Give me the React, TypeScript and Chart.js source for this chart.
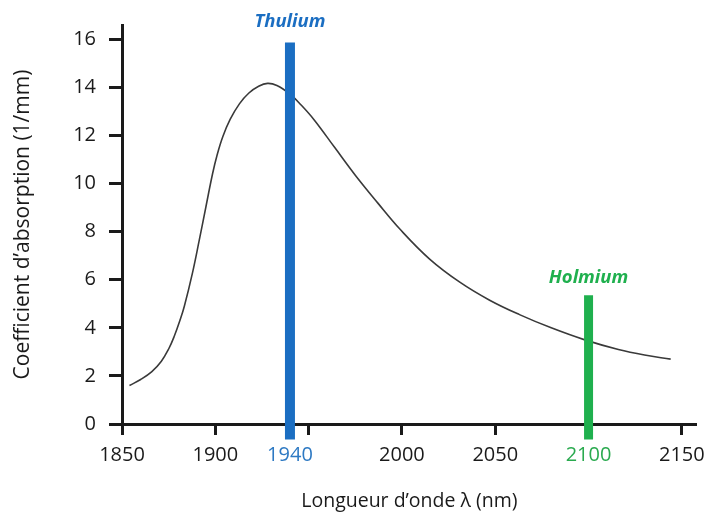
import React, { useEffect, useRef } from "react";
import { Chart, registerables } from "chart.js";

Chart.register(...registerables);

// Absorption curve (wavelength nm, coefficient 1/mm)
const curveX = [1854, 1860, 1866, 1871, 1875, 1878, 1881, 1883.4, 1887.8, 1891.4, 1895, 1898.5, 1901, 1904, 1908, 1913, 1918, 1923, 1928, 1933, 1940, 1946, 1953, 1964, 1975, 1987, 1999, 2015, 2031, 2047, 2063, 2080, 2098, 2116, 2130, 2144];
const curveY = [1.6, 1.85, 2.18, 2.6, 3.12, 3.65, 4.3, 4.9, 6.3, 7.65, 9.05, 10.4, 11.2, 11.95, 12.68, 13.33, 13.77, 14.04, 14.17, 14.08, 13.72, 13.27, 12.65, 11.5, 10.35, 9.2, 8.1, 6.85, 5.9, 5.15, 4.55, 4.0, 3.5, 3.1, 2.87, 2.7];

// Laser lines
const thuliumX = 1940;
const thuliumRange = [-0.65, 15.87];
const thuliumLabelY = 16.72;
const holmiumX = 2100;
const holmiumRange = [-0.65, 5.36];
const holmiumLabelY = 6.1;

// Axes
const xTicks = [1850, 1900, 1940, 1950, 2000, 2050, 2100, 2150];
const xTickLabels = ["1850", "1900", "1940", "", "2000", "2050", "2100", "2150"];
const yTicks = [0, 2, 4, 6, 8, 10, 12, 14, 16];

const BLUE = "#1b6ec2";
const BLUE_TXT = "#2d79c3";
const GREEN = "#1fb04e";
const GREEN_TXT = "#2aaa4f";
const INK = "#1a1a1a";
const FONT = "'Open Sans', 'DejaVu Sans', sans-serif";

const labelPlugin = {
  id: "laserLabels",
  afterDatasetsDraw(chart: any) {
    const { ctx, scales } = chart;
    const x = scales.x;
    const y = scales.y;
    ctx.save();
    ctx.font = `italic bold 18.5px ${FONT}`;
    ctx.textAlign = "center";
    ctx.textBaseline = "middle";
    ctx.fillStyle = BLUE;
    ctx.fillText("Thulium", x.getPixelForValue(thuliumX), y.getPixelForValue(thuliumLabelY));
    ctx.fillStyle = GREEN;
    ctx.fillText("Holmium", x.getPixelForValue(holmiumX), y.getPixelForValue(holmiumLabelY));
    ctx.restore();
  },
};

export default function App() {
  const ref = useRef<HTMLCanvasElement | null>(null);

  useEffect(() => {
    if (!ref.current) return;
    const chart = new Chart(ref.current, {
      type: "line",
      data: {
        datasets: [
          {
            label: "Thulium",
            data: thuliumRange.map((v) => ({ x: thuliumX, y: v })),
            borderColor: BLUE,
            borderWidth: 10,
            borderCapStyle: "butt",
            pointRadius: 0,
            clip: false as any,
            order: 0,
          },
          {
            label: "Holmium",
            data: holmiumRange.map((v) => ({ x: holmiumX, y: v })),
            borderColor: GREEN,
            borderWidth: 9,
            borderCapStyle: "butt",
            pointRadius: 0,
            clip: false as any,
            order: 0,
          },
          {
            label: "Absorption",
            data: curveX.map((xv, i) => ({ x: xv, y: curveY[i] })),
            borderColor: "#3a3a3a",
            borderWidth: 1.6,
            pointRadius: 0,
            tension: 0.4,
            order: 1,
          },
        ],
      },
      options: {
        animation: false,
        responsive: true,
        maintainAspectRatio: false,
        layout: { padding: { left: 0, right: 10, top: 20, bottom: 0 } },
        plugins: {
          legend: { display: false },
          tooltip: { enabled: false },
        },
        scales: {
          x: {
            type: "linear",
            min: 1850,
            max: 2158,
            afterBuildTicks: (s: any) => {
              s.ticks = xTicks.map((v) => ({ value: v }));
            },
            afterFit: (s: any) => {
              s.height = 93;
            },
            border: { display: true, color: INK, width: 3 },
            grid: {
              drawOnChartArea: false,
              drawTicks: true,
              tickLength: 11,
              tickWidth: 3,
              tickColor: INK,
            },
            ticks: {
              autoSkip: false,
              maxRotation: 0,
              padding: 8,
              font: { family: FONT, size: 20 },
              color: (c: any) =>
                c.tick && c.tick.value === thuliumX ? BLUE_TXT : c.tick && c.tick.value === holmiumX ? GREEN_TXT : INK,
              callback: (_v: any, i: number) => xTickLabels[i],
            },
            title: {
              display: true,
              text: "Longueur d\u2019onde \u03bb (nm)",
              font: { family: FONT, size: 19.5 },
              color: INK,
              padding: { top: 10 },
            },
          },
          y: {
            type: "linear",
            min: 0,
            max: 16.6,
            afterBuildTicks: (s: any) => {
              s.ticks = yTicks.map((v) => ({ value: v }));
            },
            afterFit: (s: any) => {
              s.width = 122;
            },
            border: { display: true, color: INK, width: 3 },
            grid: {
              drawOnChartArea: false,
              drawTicks: true,
              tickLength: 13,
              tickWidth: 3,
              tickColor: INK,
            },
            ticks: {
              autoSkip: false,
              padding: 13,
              font: { family: FONT, size: 20 },
              color: INK,
              callback: (v: any) => String(v),
            },
            title: {
              display: true,
              text: "Coefficient d\u2019absorption (1/mm)",
              font: { family: FONT, size: 21 },
              color: INK,
              padding: { top: 10, bottom: 0 },
            },
          },
        },
      },
      plugins: [labelPlugin],
    });
    return () => chart.destroy();
  }, []);

  return (
    <div style={{ position: "fixed", left: 0, top: 0, width: 713, height: 517, background: "#fff" }}>
      <canvas ref={ref} />
    </div>
  );
}
